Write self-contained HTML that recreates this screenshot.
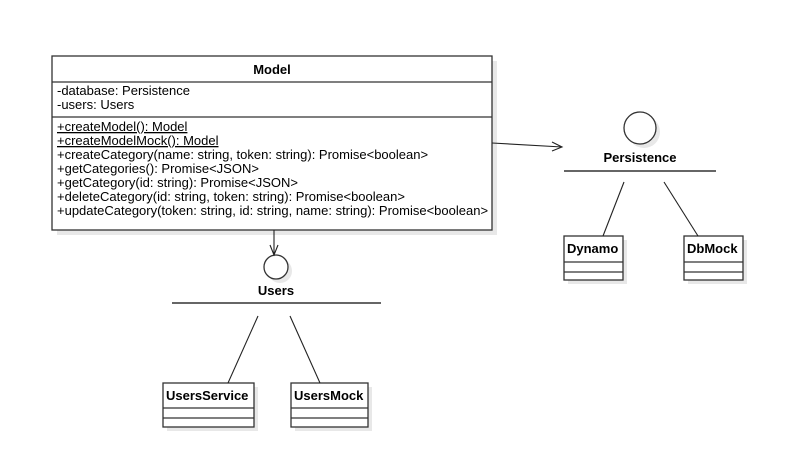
<!DOCTYPE html>
<html><head><meta charset="utf-8"><style>
body{margin:0;background:#fff}
svg text{font-family:"Liberation Sans",sans-serif;font-size:13px;fill:#000}
.b{font-weight:bold}
</style></head><body>
<svg width="805" height="460" viewBox="0 0 805 460" xmlns="http://www.w3.org/2000/svg">
<g fill="#e8e8e8" stroke="none">
<rect x="57" y="61" width="440" height="174"/>
<circle cx="644" cy="132" r="16"/>
<circle cx="280" cy="271" r="12"/>
<rect x="568" y="240" width="59" height="44"/>
<rect x="688" y="240" width="59" height="44"/>
<rect x="167" y="387" width="91" height="44"/>
<rect x="295" y="387" width="77" height="44"/>
</g>
<g stroke="#333" stroke-width="1.3" fill="#fff">
<rect x="52" y="56" width="440" height="174"/>
<line x1="52" y1="82" x2="492" y2="82"/>
<line x1="52" y1="117" x2="492" y2="117"/>
<circle cx="640" cy="128" r="16"/>
<circle cx="276" cy="267" r="12"/>
<rect x="564" y="236" width="59" height="44"/>
<line x1="564" y1="262" x2="623" y2="262"/><line x1="564" y1="272" x2="623" y2="272"/>
<rect x="684" y="236" width="59" height="44"/>
<line x1="684" y1="262" x2="743" y2="262"/><line x1="684" y1="272" x2="743" y2="272"/>
<rect x="163" y="383" width="91" height="44"/>
<line x1="163" y1="408" x2="254" y2="408"/><line x1="163" y1="418" x2="254" y2="418"/>
<rect x="291" y="383" width="77" height="44"/>
<line x1="291" y1="408" x2="368" y2="408"/><line x1="291" y1="418" x2="368" y2="418"/>
</g>
<g stroke="#666" stroke-width="2">
<line x1="564" y1="171" x2="716" y2="171"/>
<line x1="172" y1="303" x2="381" y2="303"/>
</g>
<g stroke="#222" stroke-width="1.1" fill="none">
<line x1="624" y1="182" x2="603" y2="236"/>
<line x1="664" y1="182" x2="698" y2="236"/>
<line x1="258" y1="316" x2="228" y2="383"/>
<line x1="290" y1="316" x2="320" y2="383"/>
<line x1="492" y1="143" x2="562" y2="147"/>
<polyline points="552,142 562,147 552,151"/>
<line x1="274" y1="230" x2="274" y2="255"/>
<polyline points="270,245 274,255 278,245"/>
</g>
<text x="272" y="74" text-anchor="middle" class="b">Model</text>
<text x="57" y="95">-database: Persistence</text>
<text x="57" y="109">-users: Users</text>
<text x="57" y="131" text-decoration="underline">+createModel(): Model</text>
<text x="57" y="145" text-decoration="underline">+createModelMock(): Model</text>
<text x="57" y="159">+createCategory(name: string, token: string): Promise&lt;boolean&gt;</text>
<text x="57" y="173">+getCategories(): Promise&lt;JSON&gt;</text>
<text x="57" y="187">+getCategory(id: string): Promise&lt;JSON&gt;</text>
<text x="57" y="201">+deleteCategory(id: string, token: string): Promise&lt;boolean&gt;</text>
<text x="57" y="215">+updateCategory(token: string, id: string, name: string): Promise&lt;boolean&gt;</text>
<text x="640" y="162" text-anchor="middle" class="b">Persistence</text>
<text x="276" y="295" text-anchor="middle" class="b">Users</text>
<text x="567" y="253" class="b">Dynamo</text>
<text x="687" y="253" class="b">DbMock</text>
<text x="166" y="400" class="b">UsersService</text>
<text x="294" y="400" class="b">UsersMock</text>
</svg>
</body></html>
